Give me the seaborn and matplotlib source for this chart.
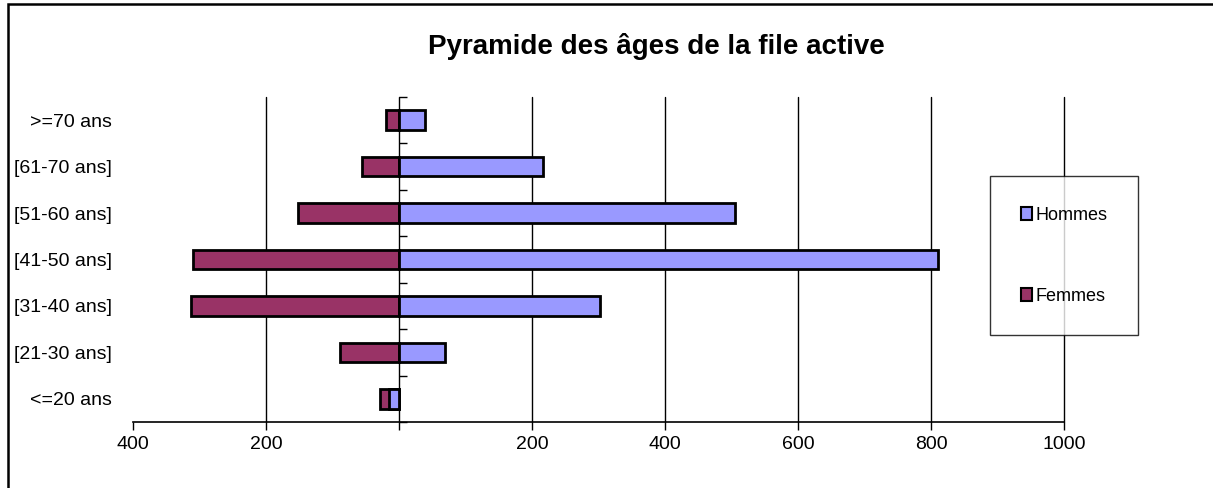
import numpy as np
import pandas as pd
import matplotlib
matplotlib.use("Agg")
import matplotlib.pyplot as plt
import seaborn as sns
from matplotlib.patches import Rectangle, Patch

categories = [">=70 ans", "[61-70 ans]", "[51-60 ans]", "[41-50 ans]",
              "[31-40 ans]", "[21-30 ans]", "<=20 ans"]
hommes = [39, 217, 505, 810, 302, 69, -15]
femmes = [-20, -56, -152, -310, -313, -89, -29]
xticks = [-400, -200, 0, 200, 400, 600, 800, 1000]
xticklabels = ["400", "200", "", "200", "400", "600", "800", "1000"]

col_h = "#9999FF"
col_f = "#993366"

sns.set_theme(style="white")
plt.rcParams["font.family"] = ["Liberation Sans", "DejaVu Sans"]
plt.rcParams["text.color"] = "black"
plt.rcParams["xtick.color"] = "black"
plt.rcParams["ytick.color"] = "black"
plt.rcParams["axes.labelcolor"] = "black"

fig = plt.figure(figsize=(12.13, 4.88), dpi=100)
ax = fig.add_axes([133/1213, 1 - 422/488, (1064 - 133)/1213, (422 - 97)/488])

df = pd.DataFrame({"cat": categories, "Hommes": hommes, "Femmes": femmes})
sns.barplot(data=df, x="Femmes", y="cat", order=categories, orient="h",
            color=col_f, edgecolor="black", linewidth=2, width=0.42,
            saturation=1, ax=ax, zorder=3)
sns.barplot(data=df, x="Hommes", y="cat", order=categories, orient="h",
            color=col_h, edgecolor="black", linewidth=2, width=0.42,
            saturation=1, ax=ax, zorder=4)

ax.set_xlim(-400, 1000)
ax.set_ylim(6.5, -0.5)
ax.set_xticks(xticks)
ax.set_xticklabels(xticklabels, fontsize=14)
ax.set_xlabel("")
ax.set_ylabel("")
ax.tick_params(axis="x", direction="out", length=6, width=1, color="black",
               bottom=True, pad=4)
ax.tick_params(axis="y", length=0, labelsize=14, pad=15)

for x in xticks[1:]:
    ax.axvline(x, color="black", linewidth=1, zorder=1, clip_on=False)

for s in ["top", "right", "left"]:
    ax.spines[s].set_visible(False)
ax.spines["bottom"].set_color("black")
ax.spines["bottom"].set_linewidth(1.2)

sec = ax.secondary_yaxis(400 / 1400)
sec.set_yticks(np.arange(-0.5, 7, 1))
sec.tick_params(direction="in", length=6, width=1, color="black",
                labelleft=False)
sec.spines["left"].set_visible(False)

fig.text(656/1213, 1 - 47/488, "Pyramide des âges de la file active",
         fontsize=20, fontweight="bold", color="black",
         ha="center", va="center")

handles = [Patch(facecolor=col_h, edgecolor="black", linewidth=1.5, label="Hommes"),
           Patch(facecolor=col_f, edgecolor="black", linewidth=1.5, label="Femmes")]
leg = fig.legend(handles=handles, loc="upper left",
                 bbox_to_anchor=(990/1213, 1 - 176/488),
                 frameon=True, fancybox=False, fontsize=13,
                 handlelength=0.6, handleheight=0.7, handletextpad=0.2,
                 labelspacing=3.55, borderpad=1.7, borderaxespad=0)
leg.get_frame().set_edgecolor("black")
leg.get_frame().set_linewidth(1)
leg.set_zorder(10)

fig.patches.append(Rectangle((7.5/1213, -0.1), 1.2, (488 - 4.5)/488 + 0.1,
                             transform=fig.transFigure, fill=False,
                             edgecolor="black", linewidth=1.8))

fig.savefig("out.png", dpi=100)
